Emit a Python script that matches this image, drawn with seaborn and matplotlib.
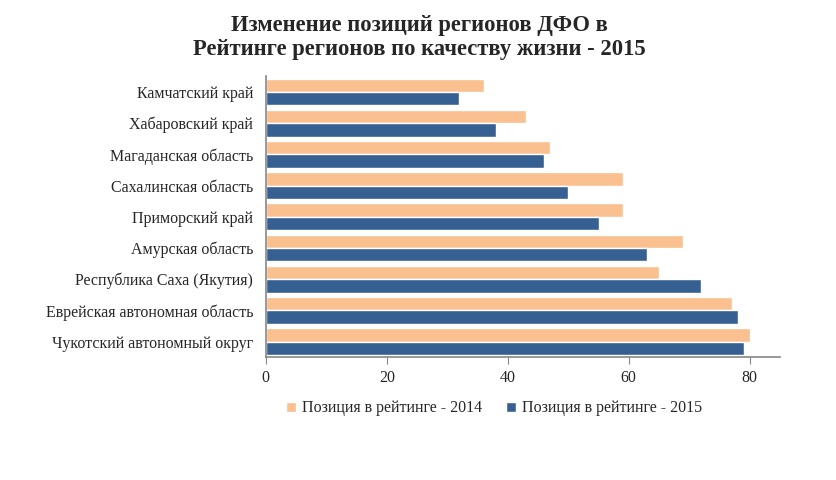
import pandas as pd
import matplotlib.pyplot as plt
import seaborn as sns

# Данные рейтинга
regions = ['Камчатский край', 'Хабаровский край', 'Магаданская область',
           'Сахалинская область', 'Приморский край', 'Амурская область',
           'Республика Саха (Якутия)', 'Еврейская автономная область',
           'Чукотский автономный округ']
pos_2014 = [36, 43, 47, 59, 59, 69, 65, 77, 80]
pos_2015 = [32, 38, 46, 50, 55, 63, 72, 78, 79]
series = ['Позиция в рейтинге - 2014', 'Позиция в рейтинге - 2015']
colors = ['#FAC08F', '#376092']

df = pd.DataFrame({
    'region': regions * 2,
    'value': pos_2014 + pos_2015,
    'series': [series[0]] * len(regions) + [series[1]] * len(regions),
})

sns.set_style('white')
plt.rcParams['font.family'] = ['Liberation Serif', 'DejaVu Serif']

fig = plt.figure(figsize=(8.36, 4.8), dpi=100)
ax = fig.add_axes([0.318, 0.256, 0.615, 0.585])

sns.barplot(data=df, y='region', x='value', hue='series', order=regions,
            hue_order=series, palette=colors, orient='h', width=0.86,
            saturation=1, ax=ax)

ax.set_xlim(0, 85)
ax.set_ylim(len(regions) - 0.5, -0.5)
ax.set_xticks([0, 20, 40, 60, 80])
ax.set_xlabel('')
ax.set_ylabel('')
ax.tick_params(axis='x', labelsize=11.5, length=5, color='#868686', direction='out',
               bottom=True, pad=4)
ax.tick_params(axis='y', labelsize=11.5, length=0, pad=9)
for side in ['top', 'right']:
    ax.spines[side].set_visible(False)
for side in ['left', 'bottom']:
    ax.spines[side].set_color('#868686')
    ax.spines[side].set_linewidth(1.2)

ax.legend(loc='upper center', bbox_to_anchor=(0.444, -0.103), ncol=2, frameon=False,
          fontsize=11.5, handlelength=0.6, handleheight=0.6, columnspacing=1.5,
          handletextpad=0.4)

fig.text(0.502, 0.922, 'Изменение позиций регионов ДФО в\nРейтинге регионов по качеству жизни - 2015',
         ha='center', va='center', fontsize=16.3, fontweight='bold', linespacing=1.2)

fig.savefig('out.png', dpi=100)
